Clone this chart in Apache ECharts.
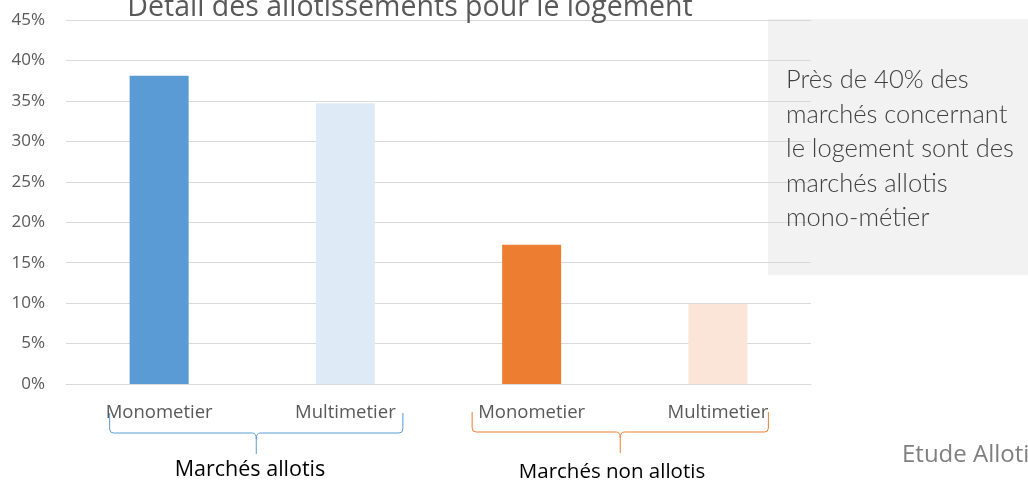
<!DOCTYPE html>
<html>
<head>
<meta charset="utf-8">
<script src="https://cdn.jsdelivr.net/npm/echarts@6/dist/echarts.min.js"></script>
<style>
  html, body { margin: 0; padding: 0; background: #fff; }
  #main { width: 1028px; height: 482px; }
</style>
</head>
<body>
<div id="main"></div>
<script>
// données
const categories = ["Monometier", "Multimetier", "Monometier", "Multimetier"];
const values = [0.381, 0.347, 0.172, 0.099];
const barColors = ["#5b9bd5", "#deebf7", "#ed7d31", "#fae5d8"];
const groups = ["Marchés allotis", "Marchés non allotis"];
const groupColors = ["#5b9bd5", "#ed7d31"];
const noteLines = ["Près de 40% des", "marchés concernant", "le logement sont des", "marchés allotis", "mono-métier"];

const chartDom = document.getElementById("main");
const myChart = echarts.init(chartDom);

let option = {
  animation: false,
  title: {
    // titre (coupé en haut)
    text: "Détail des allotissements pour le logement",
    left: 405,
    textAlign: "center",
    top: -12,
    textStyle: { fontFamily: "Open Sans", fontSize: 28.5, fontWeight: "normal", color: "#595959" }
  },
  grid: { left: 66, right: 217, top: 20, bottom: 98, containLabel: false, outerBoundsMode: "none" },
  xAxis: {
    type: "category",
    data: categories,
    axisTick: { show: false },
    axisLine: { lineStyle: { color: "#d9d9d9", width: 1 } },
    axisLabel: { margin: 19, fontFamily: "Open Sans", fontSize: 18.5, color: "#595959" }
  },
  yAxis: {
    type: "value",
    min: 0,
    max: 0.45,
    interval: 0.05,
    axisLine: { show: false },
    axisTick: { show: false },
    splitLine: { lineStyle: { color: "#d9d9d9", width: 1 } },
    axisLabel: {
      margin: 21,
      fontFamily: "Open Sans",
      fontSize: 17,
      color: "#595959",
      formatter: (v) => Math.round(v * 100) + "%"
    }
  },
  series: [
    {
      type: "bar",
      barWidth: 59,
      z: 3,
      data: values.map((v, i) => ({ value: v, itemStyle: { color: barColors[i] } }))
    }
  ]
};
myChart.setOption(option);

// accolades et textes placés à partir de l'axe
const px = categories.map((c, i) => myChart.convertToPixel({ xAxisIndex: 0 }, i));
function brace(x0, x1, top, base, tip, color) {
  const mid = (x0 + x1) / 2;
  const r = 4;
  const st = { stroke: color, lineWidth: 1, fill: null };
  const curve = (a, b, c, d, e, f) => ({
    type: "bezierCurve", z: 10, style: st,
    shape: { x1: a, y1: b, cpx1: c, cpy1: d, x2: e, y2: f }
  });
  const line = (a, b, c, d) => ({ type: "line", z: 10, style: st, shape: { x1: a, y1: b, x2: c, y2: d } });
  return [
    line(x0, top, x0, base - r),
    curve(x0, base - r, x0, base, x0 + r, base),
    line(x0 + r, base, mid - r, base),
    curve(mid - r, base, mid, base, mid, base + r + 2),
    line(x1, top, x1, base - r),
    curve(x1, base - r, x1, base, x1 - r, base),
    line(x1 - r, base, mid + r, base),
    curve(mid + r, base, mid, base, mid, base + r + 2),
    line(mid, base + r + 2, mid, tip)
  ];
}
const graphics = [
  {
    type: "rect",
    z: -10,
    shape: { x: 768, y: 19, width: 270, height: 256 },
    style: { fill: "#f2f2f2" },
    silent: true
  },
  {
    type: "text",
    z: 20,
    x: 786,
    y: 63,
    style: {
      text: noteLines.join("\n"),
      font: "300 25.5px Lato",
      lineHeight: 34.5,
      fill: "#404040"
    }
  },
  {
    type: "text",
    z: 20,
    x: 902,
    y: 455,
    style: { text: "Etude Allotissement", font: "24px 'Open Sans'", fill: "#7f7f7f", verticalAlign: "middle" }
  }
];
// accolade bleue puis orange
graphics.push(...brace(px[0] - 49.5, px[1] + 57.5, 413, 433, 454, groupColors[0]));
graphics.push(...brace(px[2] - 59.5, px[3] + 50.5, 412, 432, 453, groupColors[1]));
const labelX = [250, 612];
const labelY = [470, 472];
const labelSize = [21.5, 20.5];
for (let g = 0; g < 2; g++) {
  graphics.push({
    type: "text",
    z: 20,
    x: labelX[g],
    y: labelY[g],
    style: { text: groups[g], font: labelSize[g] + "px 'Open Sans'", fill: "#000", align: "center", verticalAlign: "middle" }
  });
}
myChart.setOption({ graphic: graphics });
</script>
</body>
</html>
